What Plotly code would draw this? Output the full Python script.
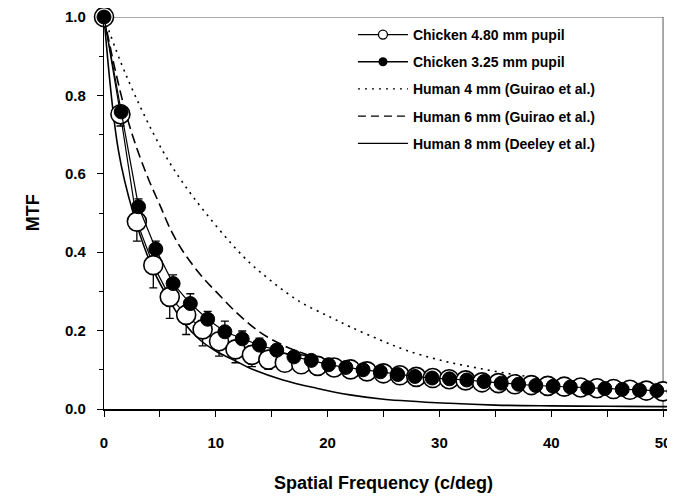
import plotly.graph_objects as go

# ---------------- data ----------------
# Chicken 4.80 mm pupil (open circles)
open_x = [round(i * 1.47, 2) for i in range(35)]
open_y = [1.0, 0.752, 0.478, 0.367, 0.286, 0.240, 0.203, 0.173, 0.152, 0.138,
          0.126, 0.118, 0.114, 0.110, 0.106, 0.101, 0.096, 0.091, 0.086, 0.082,
          0.079, 0.076, 0.073, 0.068, 0.066, 0.063, 0.061, 0.059, 0.057, 0.055,
          0.053, 0.051, 0.049, 0.047, 0.045]
open_err_minus = [0.0, 0.03, 0.05, 0.058, 0.055, 0.05, 0.042, 0.038, 0.034, 0.03,
                  0.025, 0.02, 0.015, 0.012, 0.01, 0.01, 0.01, 0.01, 0.01, 0.01,
                  0.01, 0.01, 0.01, 0.01, 0.01, 0.01, 0.01, 0.01, 0.01, 0.01,
                  0.01, 0.01, 0.01, 0.01, 0.01]

# Chicken 3.25 mm pupil (filled circles)
fill_x = [round(i * 1.545, 2) for i in range(34)]
fill_y = [1.0, 0.758, 0.516, 0.408, 0.320, 0.269, 0.229, 0.197, 0.179, 0.163,
          0.150, 0.133, 0.124, 0.113, 0.106, 0.100, 0.095, 0.088, 0.083, 0.079,
          0.077, 0.074, 0.070, 0.066, 0.063, 0.060, 0.058, 0.056, 0.054, 0.052,
          0.050, 0.048, 0.047, 0.045]
fill_err_plus = [0.0, 0.015, 0.02, 0.02, 0.022, 0.025, 0.02, 0.027, 0.02, 0.018,
                 0.015, 0.012, 0.01, 0.01, 0.01, 0.01, 0.01, 0.01, 0.01, 0.01,
                 0.01, 0.01, 0.01, 0.01, 0.01, 0.01, 0.01, 0.01, 0.01, 0.01,
                 0.01, 0.01, 0.01, 0.01]

# Human 4 mm (Guirao et al.) - dotted
h4_x = [0, 2, 5.3, 8, 12.46, 14.85, 17.5, 20.2, 22, 24.7, 27, 30, 33.3, 36.9, 40, 45, 50, 51.1]
h4_y = [1.0, 0.85, 0.656, 0.54, 0.389, 0.329, 0.274, 0.235, 0.21, 0.176, 0.15, 0.125,
        0.105, 0.087, 0.075, 0.059, 0.046, 0.044]

# Human 6 mm (Guirao et al.) - dashed
h6_x = [0, 1, 2, 3, 4, 5, 6, 7, 8, 9, 10, 12, 14, 16, 18, 20, 25, 30, 35, 40, 45, 50, 51.1]
h6_y = [1.0, 0.865, 0.75, 0.66, 0.585, 0.52, 0.455, 0.405, 0.365, 0.33, 0.30, 0.242,
        0.195, 0.163, 0.14, 0.125, 0.10, 0.08, 0.066, 0.056, 0.048, 0.042, 0.041]

# Human 8 mm (Deeley et al.) - solid
h8_x = [0, 1.28, 2.62, 4.41, 6, 7, 8.59, 10.1, 11.6, 13.06, 16, 19, 22, 25, 30.9, 35, 40, 45, 50, 51.1]
h8_y = [1.0, 0.661, 0.499, 0.355, 0.27, 0.225, 0.176, 0.146, 0.125, 0.104, 0.074, 0.053,
        0.036, 0.025, 0.0145, 0.010, 0.008, 0.007, 0.006, 0.006]

x_ticks = [0, 10, 20, 30, 40, 50]
y_ticks = [0.0, 0.2, 0.4, 0.6, 0.8, 1.0]

names = ["Chicken 4.80 mm pupil", "Chicken 3.25 mm pupil", "Human 4 mm (Guirao et al.)",
         "Human 6 mm (Guirao et al.)", "Human 8 mm (Deeley et al.)"]

# ---------------- figure ----------------
FONT = "Liberation Sans, Arial, sans-serif"
fig = go.Figure()

fig.add_trace(go.Scatter(x=h4_x, y=h4_y, mode="lines", showlegend=False,
                         line=dict(color="black", width=1.6, dash="2px,5px", shape="spline")))
fig.add_trace(go.Scatter(x=h6_x, y=h6_y, mode="lines", showlegend=False,
                         line=dict(color="black", width=1.6, dash="10px,5px", shape="spline")))
fig.add_trace(go.Scatter(x=h8_x, y=h8_y, mode="lines", showlegend=False,
                         line=dict(color="black", width=1.6, shape="spline")))

fig.add_trace(go.Scatter(x=open_x, y=open_y, mode="lines+markers", showlegend=False,
                         line=dict(color="black", width=1.2),
                         marker=dict(symbol="circle", size=19, color="white",
                                     line=dict(color="black", width=1.6)),
                         error_y=dict(type="data", symmetric=False, array=[0] * len(open_y),
                                      arrayminus=open_err_minus, color="black",
                                      thickness=1.3, width=4),
                         cliponaxis=False))
fig.add_trace(go.Scatter(x=fill_x, y=fill_y, mode="lines+markers", showlegend=False,
                         line=dict(color="black", width=1.2),
                         marker=dict(symbol="circle", size=14, color="black",
                                     line=dict(color="black", width=1)),
                         error_y=dict(type="data", symmetric=False, array=fill_err_plus,
                                      arrayminus=[0] * len(fill_y), color="black",
                                      thickness=1.3, width=4),
                         cliponaxis=False))

# legend-only entries (small symbols as in the original legend)
legend_styles = [
    dict(mode="lines+markers", line=dict(color="black", width=1.3),
         marker=dict(size=9, color="white", line=dict(color="black", width=1.3))),
    dict(mode="lines+markers", line=dict(color="black", width=1.3),
         marker=dict(size=9, color="black")),
    dict(mode="lines", line=dict(color="black", width=1.3, dash="2px,5px")),
    dict(mode="lines", line=dict(color="black", width=1.3, dash="8px,5px")),
    dict(mode="lines", line=dict(color="black", width=1.3)),
]
for i, (nm, st) in enumerate(zip(names, legend_styles)):
    fig.add_trace(go.Scatter(x=[None], y=[None], name=nm, legendgroup=f"g{i}",
                             legendrank=i + 1, **st))

# frame (top and right) drawn on 0..50 x 0..1
fig.add_shape(type="line", x0=0, x1=50, y0=1, y1=1, xref="x", yref="y",
              line=dict(color="#555", width=1), layer="below")
fig.add_shape(type="line", x0=50, x1=50, y0=0, y1=1, xref="x", yref="y",
              line=dict(color="#555", width=1), layer="below")

fig.add_annotation(text="Spatial Frequency (c/deg)", x=25, xref="x", y=-0.189, yref="paper",
                   yanchor="middle", showarrow=False,
                   font=dict(family=FONT, size=18, color="black", weight="bold"))
fig.add_annotation(text="MTF", x=-0.124, xref="paper", y=0.5, yref="paper",
                   xanchor="center", yanchor="middle", textangle=-90, showarrow=False,
                   font=dict(family=FONT, size=18, color="black", weight="bold"))

# page body has an 8px margin, so the figure is 8px smaller and the margins shifted
fig.update_layout(
    width=667, height=492,
    margin=dict(l=96, r=0, t=9, b=91, autoexpand=False),
    paper_bgcolor="white", plot_bgcolor="white",
    showlegend=True,
    legend=dict(x=0.436, y=0.995, xanchor="left", yanchor="top",
                font=dict(family=FONT, size=14, color="black", weight="bold"),
                bgcolor="rgba(0,0,0,0)", itemsizing="trace", itemwidth=50,
                tracegroupgap=6, traceorder="grouped"),
    font=dict(family=FONT, color="black"),
)

fig.update_xaxes(range=[0, 51.07], tickvals=x_ticks, ticktext=[str(v) for v in x_ticks],
                 ticks="outside", ticklen=6, tickwidth=1, tickcolor="black",
                 showline=True, linecolor="black", linewidth=1.5, automargin=False,
                 showgrid=False, zeroline=False, ticklabelstandoff=13,
                 tickfont=dict(family=FONT, size=15, color="black", weight="bold"),
                 minor=dict(dtick=5, tick0=0, ticks="outside", ticklen=6, tickcolor="black", showgrid=False))
fig.update_yaxes(range=[0, 1.0], tickvals=y_ticks, ticktext=[f"{v:.1f}" for v in y_ticks],
                 ticks="outside", ticklen=6, tickwidth=1, tickcolor="black",
                 showline=True, linecolor="black", linewidth=1.2, automargin=False,
                 showgrid=False, zeroline=False, ticklabelstandoff=8,
                 tickfont=dict(family=FONT, size=15, color="black", weight="bold"),
                 minor=dict(dtick=0.1, tick0=0, ticks="outside", ticklen=4, tickcolor="black", showgrid=False))

fig.write_html("out.html")
